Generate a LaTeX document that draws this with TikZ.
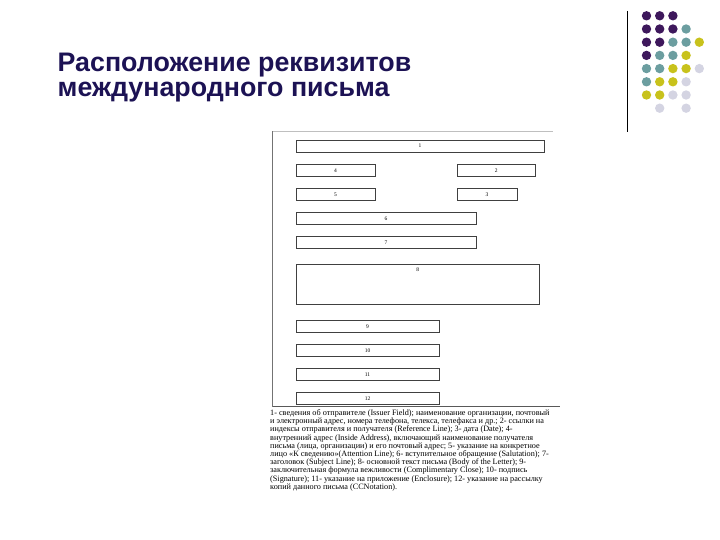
\documentclass[tikz,border=0pt]{standalone}
\usepackage{fontspec}
\setmainfont{Liberation Serif}
\newfontfamily\titlefont{Liberation Sans}
\usetikzlibrary{positioning}

\definecolor{titleblue}{RGB}{28,18,84}
\definecolor{dotpurple}{RGB}{62,24,92}
\definecolor{dotteal}{RGB}{108,158,160}
\definecolor{dotyellow}{RGB}{200,194,28}
\definecolor{dotlilac}{RGB}{212,212,226}

\begin{document}
\begin{tikzpicture}[x=1pt, y=-1pt,
        field/.style={draw=black!75, line width=0.7pt, inner sep=0pt, minimum height=12pt,
            font=\fontsize{5.5}{6}\selectfont},
        title/.style={anchor=base west, inner sep=0pt, text=titleblue,
            font=\titlefont\bfseries\fontsize{26.8}{25}\selectfont}]
        \useasboundingbox (0,0) rectangle (720,540);

        % title
        \node[title] (title1) at (57.5,71.5) {Расположение реквизитов};
        \node[title] (title2) at (57.5,96.5) {международного письма};

        % corner decoration
        \draw[line width=1.2pt] (627.5,11) -- (627.5,132);
        \foreach \c/\r in {0/0,1/0,2/0,0/1,1/1,2/1,0/2,1/2,0/3}
            \fill[dotpurple] (646.5+13.2*\c, 15.8+13.2*\r) circle (4.7pt);
        \foreach \c/\r in {3/1,2/2,3/2,1/3,2/3,0/4,1/4,0/5}
            \fill[dotteal] (646.5+13.2*\c, 15.8+13.2*\r) circle (4.7pt);
        \foreach \c/\r in {4/2,3/3,2/4,3/4,1/5,2/5,0/6,1/6}
            \fill[dotyellow] (646.5+13.2*\c, 15.8+13.2*\r) circle (4.7pt);
        \foreach \c/\r in {4/4,3/5,2/6,3/6,1/7,3/7}
            \fill[dotlilac] (646.5+13.2*\c, 15.8+13.2*\r) circle (4.7pt);

        % letter page
        \draw[black!25] (272.5,131.5) -- (553,131.5);
        \draw[black!55] (272.5,131.5) -- (272.5,406.5);
        \draw[black!65] (272.5,406.5) -- (560,406.5);

        \node[field, minimum width=248pt] (box1) at (420,146) {1};
        \node[field, minimum width=79pt] (box4) at (335.5,170.3) {4};
        \node[field, minimum width=78pt] (box2) at (496.3,170.3) {2};
        \node[field, minimum width=79pt] (box5) at (335.5,194.5) {5};
        \node[field, minimum width=60pt] (box3) at (487,194.5) {3};
        \node[field, minimum width=180pt] (box6) at (386,218.3) {6};
        \node[field, minimum width=180pt] (box7) at (386,242.3) {7};
        \node[field, minimum width=243.5pt, minimum height=40pt] (box8) at (417.7,284.3) {};
        \node[font=\fontsize{5.5}{6}\selectfont, inner sep=0pt, below=3.5pt of box8.north] (label8) {8};
        \node[field, minimum width=143pt] (box9) at (367.5,326.3) {9};
        \node[field, minimum width=143pt] (box10) at (367.5,350.4) {10};
        \node[field, minimum width=143pt] (box11) at (367.5,374.3) {11};
        \node[field, minimum width=143pt] (box12) at (367.5,398.3) {12};

        % legend
        \node[anchor=north west, inner sep=0pt, align=left,
            font=\fontsize{8.2}{8.2}\selectfont] (legend) at (270,409.5)
            {1- сведения об отправителе (Issuer Field); наименование организации, почтовый\\
            и электронный адрес, номера телефона, телекса, телефакса и др.; 2- ссылки на\\
            индексы отправителя и получателя (Reference Line); 3- дата (Date); 4-\\
            внутренний адрес (Inside Address), включающий наименование получателя\\
            письма (лица, организации) и его почтовый адрес; 5- указание на конкретное\\
            лицо «К сведению»(Attention Line); 6- вступительное обращение (Salutation); 7-\\
            заголовок (Subject Line); 8- основной текст письма (Body of the Letter); 9-\\
            заключительная формула вежливости (Complimentary Close); 10- подпись\\
            (Signature); 11- указание на приложение (Enclosure); 12- указание на рассылку\\
            копий данного письма (CCNotation).};

    \end{tikzpicture}
\end{document}
